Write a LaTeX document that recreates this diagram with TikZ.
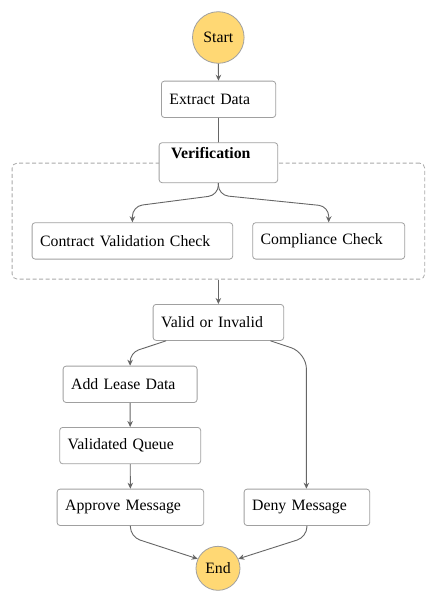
\documentclass[tikz,border=0pt]{standalone}
\usepackage{fontspec}
\setmainfont{Liberation Serif}
\usetikzlibrary{arrows.meta,calc}
\definecolor{boxline}{HTML}{A0A0A0}
\definecolor{edgeline}{HTML}{666666}
\definecolor{termfill}{HTML}{FFD874}
\definecolor{dashline}{HTML}{AAAAAA}
\begin{document}
\begin{tikzpicture}[x=1pt,y=-1pt,
  every node/.style={font=\fontsize{15.8}{19}\selectfont},
  stbox/.style={draw=boxline, fill=white, rounded corners=3pt, anchor=north west,
    minimum height=36.4pt, inner xsep=8pt, inner ysep=0pt, align=left, line width=0.8pt},
  term/.style={circle, draw=boxline, fill=termfill, line width=0.8pt, inner sep=0pt},
  flow/.style={draw=edgeline, line width=0.9pt, -{Stealth[length=6pt,width=5.5pt]}},
  plain/.style={draw=edgeline, line width=0.9pt}
]
\useasboundingbox (0,0) rectangle (437,603);
\fill[white] (0,0) rectangle (437,603);

% container
\node[draw=dashline, dashed, dash pattern=on 4pt off 2.5pt, rounded corners=5pt, line width=0.8pt,
  anchor=north west, minimum width=412.6pt, minimum height=116pt, inner sep=0pt] (cont) at (11.7,162.7) {};

\node[term, minimum size=51.6pt] (start) at (218.3,37.5) {Start};
\node[stbox, text width=98.3pt] (extract) at (161,80.7) {Extract Data};
\node[stbox, text width=102.6pt, minimum height=40pt] (verif) at (158.7,142.3) {};
\node[anchor=west, font=\fontsize{15.8}{19}\selectfont\bfseries, inner sep=0pt] (veriftext) at (171,153) {Verification};
\node[stbox, text width=184.6pt] (contract) at (31.7,222.3) {Contract Validation Check};
\node[stbox, text width=136pt] (compl) at (252.3,222.3) {Compliance Check};
\node[stbox, text width=114.6pt, minimum height=36pt] (valid) at (152.7,304) {Valid or Invalid};
\node[stbox, text width=118pt] (lease) at (62.7,365.7) {Add Lease Data};
\node[stbox, text width=125pt] (queue) at (59.3,427) {Validated Queue};
\node[stbox, text width=130.6pt] (approve) at (56.7,488.7) {Approve Message};
\node[stbox, text width=109.6pt] (deny) at (243.7,488.7) {Deny Message};
\node[term, minimum size=44pt] (end) at (218,568.3) {End};

% edges
\draw[flow] (start) -- (extract);
\draw[plain] (extract) -- (verif);
\draw[flow, rounded corners=10pt] (verif.south) -- ++(0,12) -- ($(contract.north)+(0,-16)$) -- (contract.north);
\draw[flow, rounded corners=10pt] (verif.south) -- ++(0,12) -- ($(compl.north)+(0,-16)$) -- (compl.north);
\draw[flow] (cont.south) -- (valid.north);
\draw[flow, rounded corners=9pt] ($(valid.south)+(-52.3,0)$) -- ($(lease.north)+(0,-13)$) -- (lease.north);
\draw[flow, rounded corners=16pt] ($(valid.south)+(52,0)$) -- ++(36,12) coordinate (dturn) -- (dturn |- deny.north);
\draw[flow] (lease) -- (queue);
\draw[flow] (queue) -- (approve);
\draw[flow, rounded corners=10pt] (approve.south) -- ++(0,11) -- (end.155);
\draw[flow, rounded corners=10pt] (deny.south) -- ++(0,11) -- (end.25);
\end{tikzpicture}
\end{document}
